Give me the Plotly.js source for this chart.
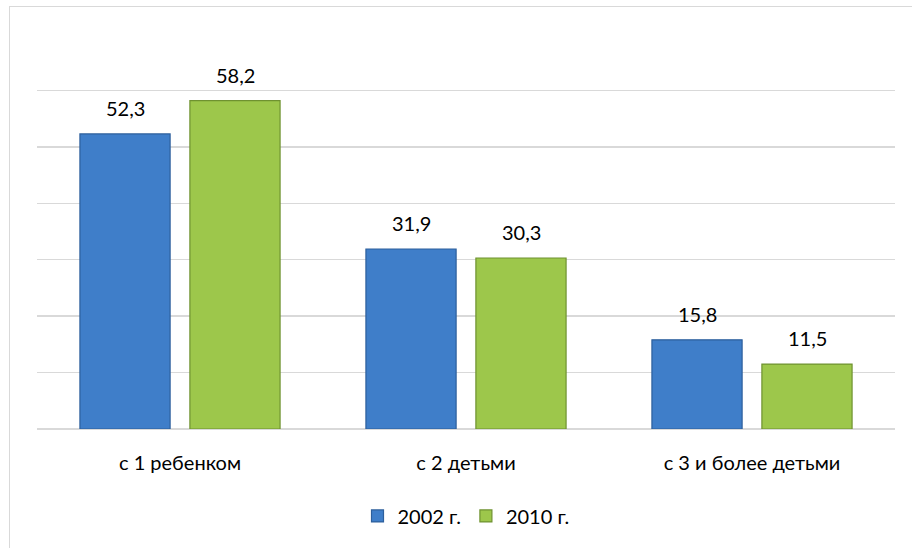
<!DOCTYPE html>
<html>
<head>
<meta charset="utf-8">
<script src="https://cdn.plot.ly/plotly-3.0.1.min.js"></script>
<style>
  html, body { margin: 0; padding: 0; background: #fff; }
  #wrap { position: relative; width: 912px; height: 548px; overflow: hidden; }
  #chart { width: 912px; height: 548px; }
  #frame { position: absolute; left: 9px; top: 6px; width: 1000px; height: 1000px;
           border: 1px solid #d9d9d9; box-sizing: border-box; pointer-events: none; }
</style>
</head>
<body>
<div id="wrap">
  <div id="chart"></div>
  <div id="frame"></div>
</div>
<script>
const categories = ["с 1 ребенком", "с 2 детьми", "с 3 и более детьми"];
const seriesNames = ["2002 г.", "2010 г."];
const values2002 = [52.3, 31.9, 15.8];
const values2010 = [58.2, 30.3, 11.5];

const fmt = v => v.toFixed(1).replace('.', ',');
const fontFam = "Lato, 'Open Sans', sans-serif";

const traces = [
  {
    type: 'bar', name: seriesNames[0], x: categories, y: values2002,
    marker: { color: '#3f7ec9', line: { color: '#2d5f9c', width: 1.2 } },
    hoverinfo: 'y'
  },
  {
    type: 'bar', name: seriesNames[1], x: categories, y: values2010,
    marker: { color: '#9dc74b', line: { color: '#6f9230', width: 1.2 } },
    hoverinfo: 'y'
  }
];

const annotations = [];
[values2002, values2010].forEach((vals, si) => {
  vals.forEach((v, i) => {
    annotations.push({
      x: categories[i], y: v, xref: 'x', yref: 'y',
      text: fmt(v), showarrow: false,
      xshift: si === 0 ? -55 : 55, yshift: 12, yanchor: 'bottom',
      font: { family: fontFam, size: 20, color: '#000' }
    });
  });
});

const layout = {
  width: 912, height: 548,
  margin: { l: 37, r: 17, t: 34, b: 119 },
  paper_bgcolor: 'rgba(0,0,0,0)', plot_bgcolor: '#fff',
  barmode: 'group', bargap: 0.231, bargroupgap: 0.18,
  font: { family: fontFam, size: 20, color: '#000' },
  xaxis: {
    type: 'category', showgrid: false, zeroline: false, showline: false,
    ticks: '', ticklabelstandoff: 20,
    tickfont: { family: fontFam, size: 20, color: '#000' }
  },
  yaxis: {
    range: [0, 70], dtick: 10, showticklabels: false, ticks: '',
    showgrid: true, gridcolor: '#d9d9d9', gridwidth: 1.5,
    zeroline: true, zerolinecolor: '#d9d9d9', zerolinewidth: 1.5, showline: false
  },
  legend: {
    orientation: 'h', x: 0.5, xanchor: 'center', y: -0.22, yanchor: 'middle',
    font: { family: fontFam, size: 20, color: '#000' },
    itemwidth: 30, traceorder: 'normal'
  },
  annotations: annotations,
  showlegend: true
};

Plotly.newPlot('chart', traces, layout, { displayModeBar: false, staticPlot: true });
</script>
</body>
</html>
